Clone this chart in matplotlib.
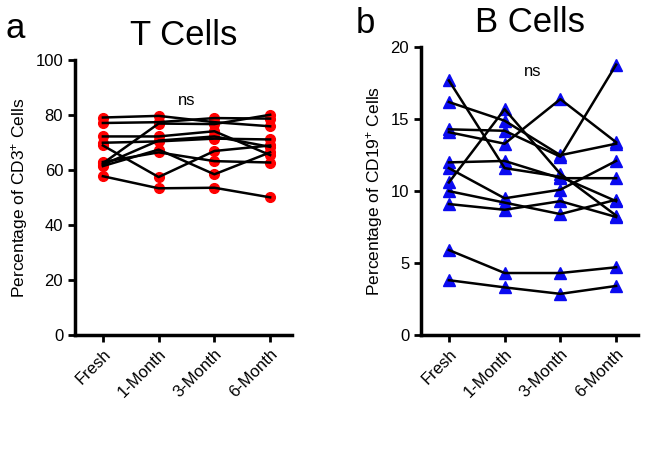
import matplotlib
matplotlib.use('Agg')
import matplotlib.pyplot as plt

plt.rcParams['font.family'] = ['Liberation Sans', 'DejaVu Sans']
plt.rcParams['mathtext.default'] = 'regular'

timepoints = ['Fresh', '1-Month', '3-Month', '6-Month']

# T cells, % CD3+ (one list per donor: Fresh, 1M, 3M, 6M)
t_cells = [
    [79.2, 79.8, 77.5, 76.0],
    [77.2, 77.5, 79.0, 78.8],
    [62.5, 77.0, 76.8, 80.2],
    [72.3, 72.3, 74.2, 65.5],
    [70.0, 70.5, 71.5, 71.2],
    [69.0, 57.5, 67.0, 69.0],
    [61.5, 67.5, 58.5, 66.5],
    [63.0, 66.5, 63.3, 62.8],
    [62.0, 70.8, 72.3, 68.5],
    [57.8, 53.4, 53.6, 50.1],
]

# B cells, % CD19+
b_cells = [
    [17.7, 11.6, 11.0, 9.3],
    [16.2, 14.9, 12.5, 13.3],
    [14.3, 14.2, 12.4, 18.8],
    [14.1, 13.3, 16.4, 13.4],
    [10.6, 15.7, 11.2, 8.3],
    [12.0, 12.1, 10.9, 10.9],
    [11.6, 9.5, 10.1, 12.1],
    [10.0, 9.2, 8.4, 9.4],
    [9.1, 8.7, 9.3, 8.2],
    [5.9, 4.3, 4.3, 4.7],
    [3.8, 3.3, 2.85, 3.4],
]

fig = plt.figure(figsize=(6.49, 4.65), dpi=100)
ax1 = fig.add_axes([0.1156, 0.28, 0.335, 0.59])
ax2 = fig.add_axes([0.6487, 0.28, 0.335, 0.618])

x = list(range(len(timepoints)))


def style(ax, ymax, yticks, title, ylabel):
    ax.set_xlim(-0.5, 3.4)
    ax.set_ylim(0, ymax)
    ax.set_yticks(yticks)
    ax.set_xticks(x)
    ax.set_xticklabels(timepoints, rotation=45, ha='right', rotation_mode='anchor')
    for s in ['top', 'right']:
        ax.spines[s].set_visible(False)
    for s in ['left', 'bottom']:
        ax.spines[s].set_linewidth(2.5)
    ax.tick_params(axis='both', width=2, length=5, labelsize=12)
    ax.set_title(title, fontsize=25, pad=11)
    ax.set_ylabel(ylabel, fontsize=12.5)


for row in t_cells:
    ax1.plot(x, row, 'o', color='red', markersize=7, zorder=2, clip_on=False)
    ax1.plot(x, row, '-', color='black', lw=1.8, zorder=3, clip_on=False)
style(ax1, 100, [0, 20, 40, 60, 80, 100], 'T Cells', 'Percentage of CD3$^{+}$ Cells')
ax1.text(1.5, 85.5, 'ns', ha='center', va='center', fontsize=12)

for row in b_cells:
    ax2.plot(x, row, '^', color='#0a0af0', markersize=8, zorder=2, clip_on=False)
    ax2.plot(x, row, '-', color='black', lw=1.8, zorder=3, clip_on=False)
style(ax2, 20, [0, 5, 10, 15, 20], 'B Cells', 'Percentage of CD19$^{+}$ Cells')
ax2.text(1.5, 18.3, 'ns', ha='center', va='center', fontsize=12)

fig.text(0.008, 0.975, 'a', fontsize=25, va='top')
fig.text(0.548, 0.985, 'b', fontsize=25, va='top')

plt.savefig('out.png', dpi=100)
